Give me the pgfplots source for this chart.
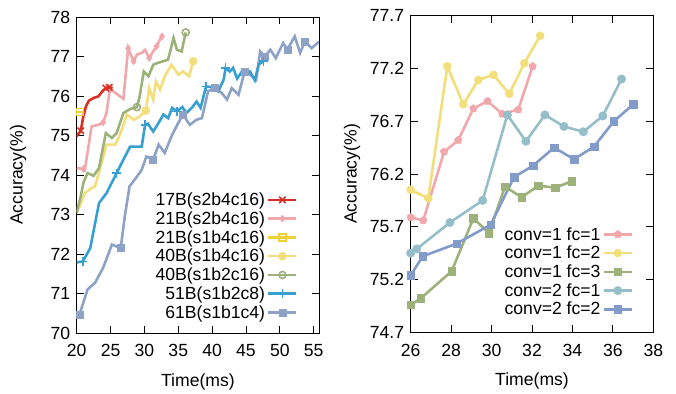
\documentclass[border=0pt]{standalone}
\usepackage{fontspec}
\setmainfont{Liberation Sans}
\usepackage{pgfplots}
\pgfplotsset{compat=1.18}
\usetikzlibrary{plotmarks}
\definecolor{cR}{RGB}{214,48,39}
\definecolor{cP}{RGB}{240,168,172}
\definecolor{cY}{RGB}{240,208,50}
\definecolor{cYp}{RGB}{242,222,122}
\definecolor{cG}{RGB}{156,178,122}
\definecolor{cB}{RGB}{56,160,208}
\definecolor{cGB}{RGB}{142,162,200}
\definecolor{cT}{RGB}{150,190,200}
\definecolor{cB2}{RGB}{130,155,200}
\newcommand{\fs}{\fontsize{17.6}{20}\selectfont}
\pgfplotsset{
  myax/.style={
    scale only axis, width=242.4pt, height=316pt,
    tick align=inside, major tick length=7pt,
    every tick/.style={black, line width=0.8pt},
    axis line style={line width=1pt},
    font=\fs, tick label style={font=\fs},
    /pgf/number format/assume math mode=true,
    xlabel={Time(ms)}, ylabel={Accuracy(\%)},
    every axis x label/.style={at={(axis description cs:0.5,-0.154)}, anchor=center},
    every axis y label/.style={at={(axis description cs:-0.242,0.5)}, anchor=center, rotate=90},
    xticklabel style={yshift=-8pt},
    yticklabel style={xshift=-3pt},
    legend cell align=right, legend plot pos=right,
    legend style={draw=none, fill=none, font=\fs, row sep=0.5pt},
    legend image code/.code={\draw[mark repeat=2,mark phase=2,#1] plot coordinates {(0pt,0pt) (14pt,0pt) (28pt,0pt)};},
  },
  ln/.style={line width=2.6pt, no marks, forget plot},
  mk/.style={only marks, forget plot},
  sR/.style={cR, line width=2.6pt, mark=x, mark size=4.5pt, mark options={line width=1.6pt, solid}},
  sP/.style={cP, line width=2.6pt, mark=diamond*, mark size=3.5pt, mark options={line width=0.5pt, solid}},
  sY/.style={cY, line width=2.6pt, mark=square, mark size=3.5pt, mark options={line width=1.6pt, solid, fill=white}},
  sYp/.style={cYp, line width=2.6pt, mark=*, mark size=4pt, mark options={line width=0.5pt, solid}},
  sG/.style={cG, line width=2.6pt, mark=o, mark size=3.5pt, mark options={line width=1.6pt, solid, fill=white}},
  sB/.style={cB, line width=2.6pt, mark=+, mark size=4.5pt, mark options={line width=1.6pt, solid}},
  sGB/.style={cGB, line width=2.6pt, mark=square*, mark size=3.5pt, mark options={line width=0.5pt, solid}},
  tP/.style={cP, line width=2.6pt, mark=pentagon*, mark size=4pt, mark options={line width=0.5pt, solid}},
  tY/.style={cYp, line width=2.6pt, mark=*, mark size=4pt, mark options={line width=0.5pt, solid}},
  tG/.style={cG, line width=2.6pt, mark=square*, mark size=3.8pt, mark options={line width=0.5pt, solid}},
  tT/.style={cT, line width=2.6pt, mark=*, mark size=4.2pt, mark options={line width=0.5pt, solid}},
  tB/.style={cB2, line width=2.6pt, mark=square*, mark size=3.8pt, mark options={line width=0.5pt, solid}},
}
\begin{document}
\begin{tikzpicture}
\useasboundingbox (0,0) rectangle (676pt,393pt);
\begin{axis}[myax, at={(76.7pt,60pt)}, anchor=south west,
  xmin=20, xmax=55.8, ymin=70, ymax=78,
  xtick={20,25,...,55}, ytick={70,71,...,78},
  legend style={at={(axis description cs:0.925,0.457)}, anchor=north east}]
% 61B
\addplot[cGB, ln] coordinates {(20,70.42)(20.4,70.46)(21.6,71.1)(22.7,71.27)(23.9,71.65)(25.2,72.24)(25.9,72.19)(26.5,72.15)(27.1,72.95)(27.8,73.71)(28.9,73.96)(29.6,74.13)(30.3,74.47)(31.3,74.39)(32.1,74.77)(33.0,74.56)(34.0,74.98)(35.0,75.32)(35.7,75.53)(36.7,75.27)(37.7,75.4)(38.5,75.44)(39.4,76.12)(40.4,76.2)(41.4,76.08)(42.2,75.91)(42.9,76.2)(43.9,76.03)(44.8,76.62)(45.6,76.54)(46.5,76.41)(47.1,77.13)(47.8,77.0)(48.6,77.17)(49.4,76.96)(50.5,77.34)(51.1,77.17)(52.2,77.51)(53.0,77.09)(53.7,77.38)(54.7,77.21)(55.8,77.38)};
\addplot[sGB, mk] coordinates {(20.4,70.46)(26.5,72.15)(31.3,74.39)(35.7,75.53)(40.4,76.2)(44.8,76.62)(47.8,77.0)(51.1,77.17)(53.7,77.38)};
% 51B
\addplot[cB, ln] coordinates {(20,71.79)(20.9,71.81)(22,72.15)(23.3,73.29)(24.4,73.54)(25.9,74.05)(26.9,74.39)(27.9,74.72)(28.9,74.72)(29.6,74.72)(30.1,75.27)(30.5,75.3)(31.3,75.1)(32.1,75.32)(32.8,75.53)(33.5,75.44)(34.1,75.7)(34.8,75.61)(35.6,75.72)(36.2,75.57)(37.0,75.7)(37.7,75.86)(38.3,75.7)(39.1,76.24)(40.2,76.22)(40.9,76.12)(41.7,76.41)(42.0,76.71)(42.6,76.62)(43.1,76.71)(43.7,76.44)(44.4,76.62)(45.6,76.62)(46.3,76.4)(46.9,76.8)(47.6,76.88)};
\addplot[sB, mk] coordinates {(20.9,71.81)(25.9,74.05)(30.1,75.27)(34.8,75.61)(39.1,76.24)(42.0,76.71)(47.6,76.88)};
% 40B s1b4c16
\addplot[cYp, ln] coordinates {(20,73.05)(20.4,73.2)(21.2,73.54)(22.2,73.67)(22.7,73.71)(23.4,74.13)(24.4,74.77)(25.7,74.77)(26.4,75.02)(27.4,75.53)(28.4,75.4)(29.3,75.48)(30.2,75.63)(30.7,76.2)(31.3,75.91)(31.7,76.37)(32.3,76.16)(33.0,76.5)(34.0,76.79)(35.0,76.54)(35.7,76.62)(36.6,76.5)(37.2,76.88)};
\addplot[sYp, mk] coordinates {(30.2,75.63)(37.2,76.88)};
% 40B s1b2c16
\addplot[cG, ln] coordinates {(20,73.05)(20.6,73.46)(21.0,73.81)(21.6,74.05)(22.5,73.98)(23.3,74.18)(24.3,75.06)(25.2,74.94)(25.9,75.06)(26.9,75.57)(27.9,75.67)(28.9,75.72)(29.3,75.99)(29.9,76.62)(30.6,76.5)(31.3,76.79)(32.0,76.84)(32.8,76.88)(33.5,76.92)(34.3,77.47)(34.8,77.17)(35.5,77.13)(36.1,77.61)};
\addplot[sG, mk] coordinates {(28.9,75.72)(36.1,77.61)};
% 21B s1b4c16
\addplot[cY, ln] coordinates {(20,75.6)(20.5,75.6)(21.1,75.6)};
\addplot[sY, mk] coordinates {(20.5,75.6)};
% 21B s2b4c16
\addplot[cP, ln] coordinates {(20,74.18)(21.0,74.15)(21.2,74.13)(22.2,75.23)(23.2,75.27)(23.9,75.33)(24.4,75.57)(24.9,76.16)(25.4,76.12)(26.1,76.03)(26.9,75.93)(27.6,77.21)(28.4,76.88)(28.9,77.05)(29.6,77.09)(30.1,77.17)(30.7,76.96)(31.3,77.13)(31.8,77.26)(32.3,77.43)(32.6,77.51)};
\addplot[sP, mk] coordinates {(21.0,74.15)(23.9,75.33)(27.6,77.21)(28.4,76.88)(30.7,76.96)(31.8,77.26)(32.6,77.51)};
% 17B
\addplot[cR, ln] coordinates {(20,74.98)(20.6,75.12)(21.0,75.5)(21.4,75.75)(21.8,75.88)(22.5,75.95)(23.2,75.99)(23.8,76.12)(24.3,76.2)(24.8,76.22)(25.3,76.2)};
\addplot[sR, mk] coordinates {(20.6,75.12)(24.3,76.2)(24.8,76.22)};
\addlegendimage{sR}\addlegendentry{17B(s2b4c16)}
\addlegendimage{sP}\addlegendentry{21B(s2b4c16)}
\addlegendimage{sY}\addlegendentry{21B(s1b4c16)}
\addlegendimage{sYp}\addlegendentry{40B(s1b4c16)}
\addlegendimage{sG}\addlegendentry{40B(s1b2c16)}
\addlegendimage{sB}\addlegendentry{51B(s1b2c8)}
\addlegendimage{sGB}\addlegendentry{61B(s1b1c4)}
\end{axis}
\begin{axis}[myax, at={(410.7pt,60.7pt)}, anchor=south west, width=242.6pt, height=316.6pt,
  xmin=26, xmax=38, ymin=74.7, ymax=77.7,
  xtick={26,28,...,38}, ytick={74.7,75.2,75.7,76.2,76.7,77.2,77.7},
  yticklabel style={/pgf/number format/fixed, /pgf/number format/precision=1, /pgf/number format/fixed zerofill},
  legend style={at={(axis description cs:0.93,0.345)}, anchor=north east}]
\addplot[tP, forget plot] coordinates {(26,75.79)(26.62,75.76)(27.65,76.41)(28.35,76.52)(29.1,76.82)(29.8,76.89)(30.53,76.77)(31.32,76.81)(32.03,77.22)};
\addplot[tY, forget plot] coordinates {(26,76.05)(26.87,75.97)(27.81,77.22)(28.6,76.86)(29.34,77.09)(30.09,77.14)(30.88,76.96)(31.62,77.25)(32.4,77.51)};
\addplot[tG, forget plot] coordinates {(26,74.96)(26.49,75.02)(28.03,75.28)(29.1,75.78)(29.87,75.64)(30.66,76.08)(31.49,75.98)(32.31,76.09)(33.14,76.07)(33.96,76.13)};
\addplot[tT, forget plot] coordinates {(26,75.45)(26.3,75.49)(27.94,75.74)(29.56,75.95)(30.78,76.76)(31.7,76.51)(32.64,76.76)(33.58,76.65)(34.54,76.6)(35.5,76.75)(36.43,77.1)};
\addplot[tB, forget plot] coordinates {(26,75.24)(26.59,75.42)(28.27,75.54)(29.96,75.72)(31.11,76.17)(32.06,76.28)(33.09,76.45)(34.08,76.34)(35.07,76.46)(36.05,76.7)(37.01,76.86)};
\addlegendimage{tP}\addlegendentry{conv=1 fc=1}
\addlegendimage{tY}\addlegendentry{conv=1 fc=2}
\addlegendimage{tG}\addlegendentry{conv=1 fc=3}
\addlegendimage{tT}\addlegendentry{conv=2 fc=1}
\addlegendimage{tB}\addlegendentry{conv=2 fc=2}
\end{axis}
\end{tikzpicture}
\end{document}
